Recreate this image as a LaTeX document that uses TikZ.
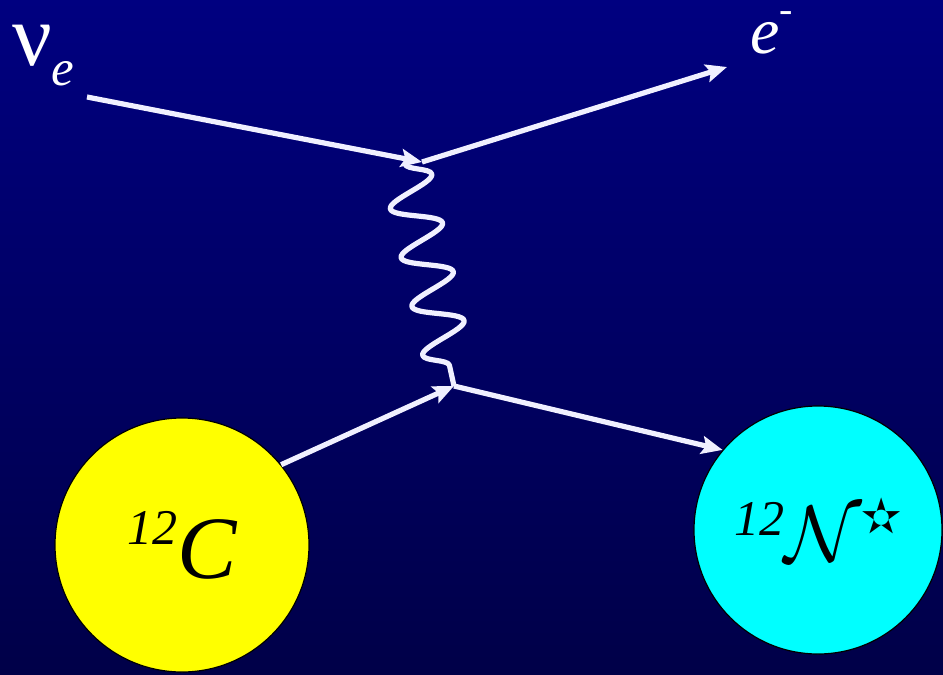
\RequirePackage{fix-cm}
\documentclass[tikz,border=0pt]{standalone}
\usepackage{fontspec}
\setmainfont{Liberation Serif}
\newfontfamily\starfont{DejaVu Sans}
\usetikzlibrary{arrows.meta, decorations.pathmorphing}

\definecolor{bgtop}{RGB}{0,0,128}
\definecolor{bgbottom}{RGB}{0,0,72}
\definecolor{lineclr}{RGB}{240,240,255}
\definecolor{carbon}{RGB}{255,255,0}
\definecolor{nitrogen}{RGB}{0,255,255}

\begin{document}
\begin{tikzpicture}[
  x=1pt, y=-1pt,
  particle/.style={draw=lineclr, line width=5.2pt,
    -{Stealth[length=21pt, width=18pt, inset=4pt]}},
  photon/.style={draw=lineclr, line width=5.2pt, line join=round,
    decorate, decoration={snake, segment length=50pt, amplitude=24pt}},
  nucleus/.style={circle, draw=black, line width=1.2pt, inner sep=0pt,
    font=\itshape},
  lbl/.style={text=white, inner sep=0pt, anchor=base west},
]

% --- background ---
\fill[top color=bgtop, bottom color=bgbottom] (0,0) rectangle (943,675);
\useasboundingbox (0,0) rectangle (943,675);

% --- vertices and free ends ---
\coordinate (nuin) at (87,97);
\coordinate (v1) at (422,162);
\coordinate (ph1) at (405,164);
\coordinate (eout) at (727,67);
\coordinate (v2) at (454,386);

% --- nuclei ---
\node[nucleus, fill=carbon, minimum size=254pt] (c12) at (182,545)
  {\raisebox{34pt}{\fontsize{50}{50}\selectfont 12}\fontsize{89}{89}\selectfont C};
\node[nucleus, fill=nitrogen, minimum size=248pt] (n12) at (818,530)
  {\raisebox{26pt}{\fontsize{50}{50}\selectfont 12}%
   {\fontsize{80}{80}\selectfont$\mathcal{N}$}%
   \raisebox{28pt}{\fontsize{48}{48}\selectfont\starfont ✫}};

% --- labels ---
\node[lbl] (nulbl) at (12,65)
  {\fontsize{88}{88}\selectfont ν\raisebox{-20pt}{\fontsize{51}{51}\selectfont\itshape e}};
\node[lbl] (elbl) at (750,53)
  {\fontsize{66}{66}\selectfont\itshape e\raisebox{31pt}{\fontsize{40}{40}\selectfont -}};

% --- lines ---
\draw[particle] (nuin) -- (v1);
\draw[particle] (v1) -- (eout);
\draw[photon] (ph1) -- (v2);
\draw[particle] (c12.39) -- (v2);
\draw[particle] (v2) -- (n12.140);

\end{tikzpicture}
\end{document}
